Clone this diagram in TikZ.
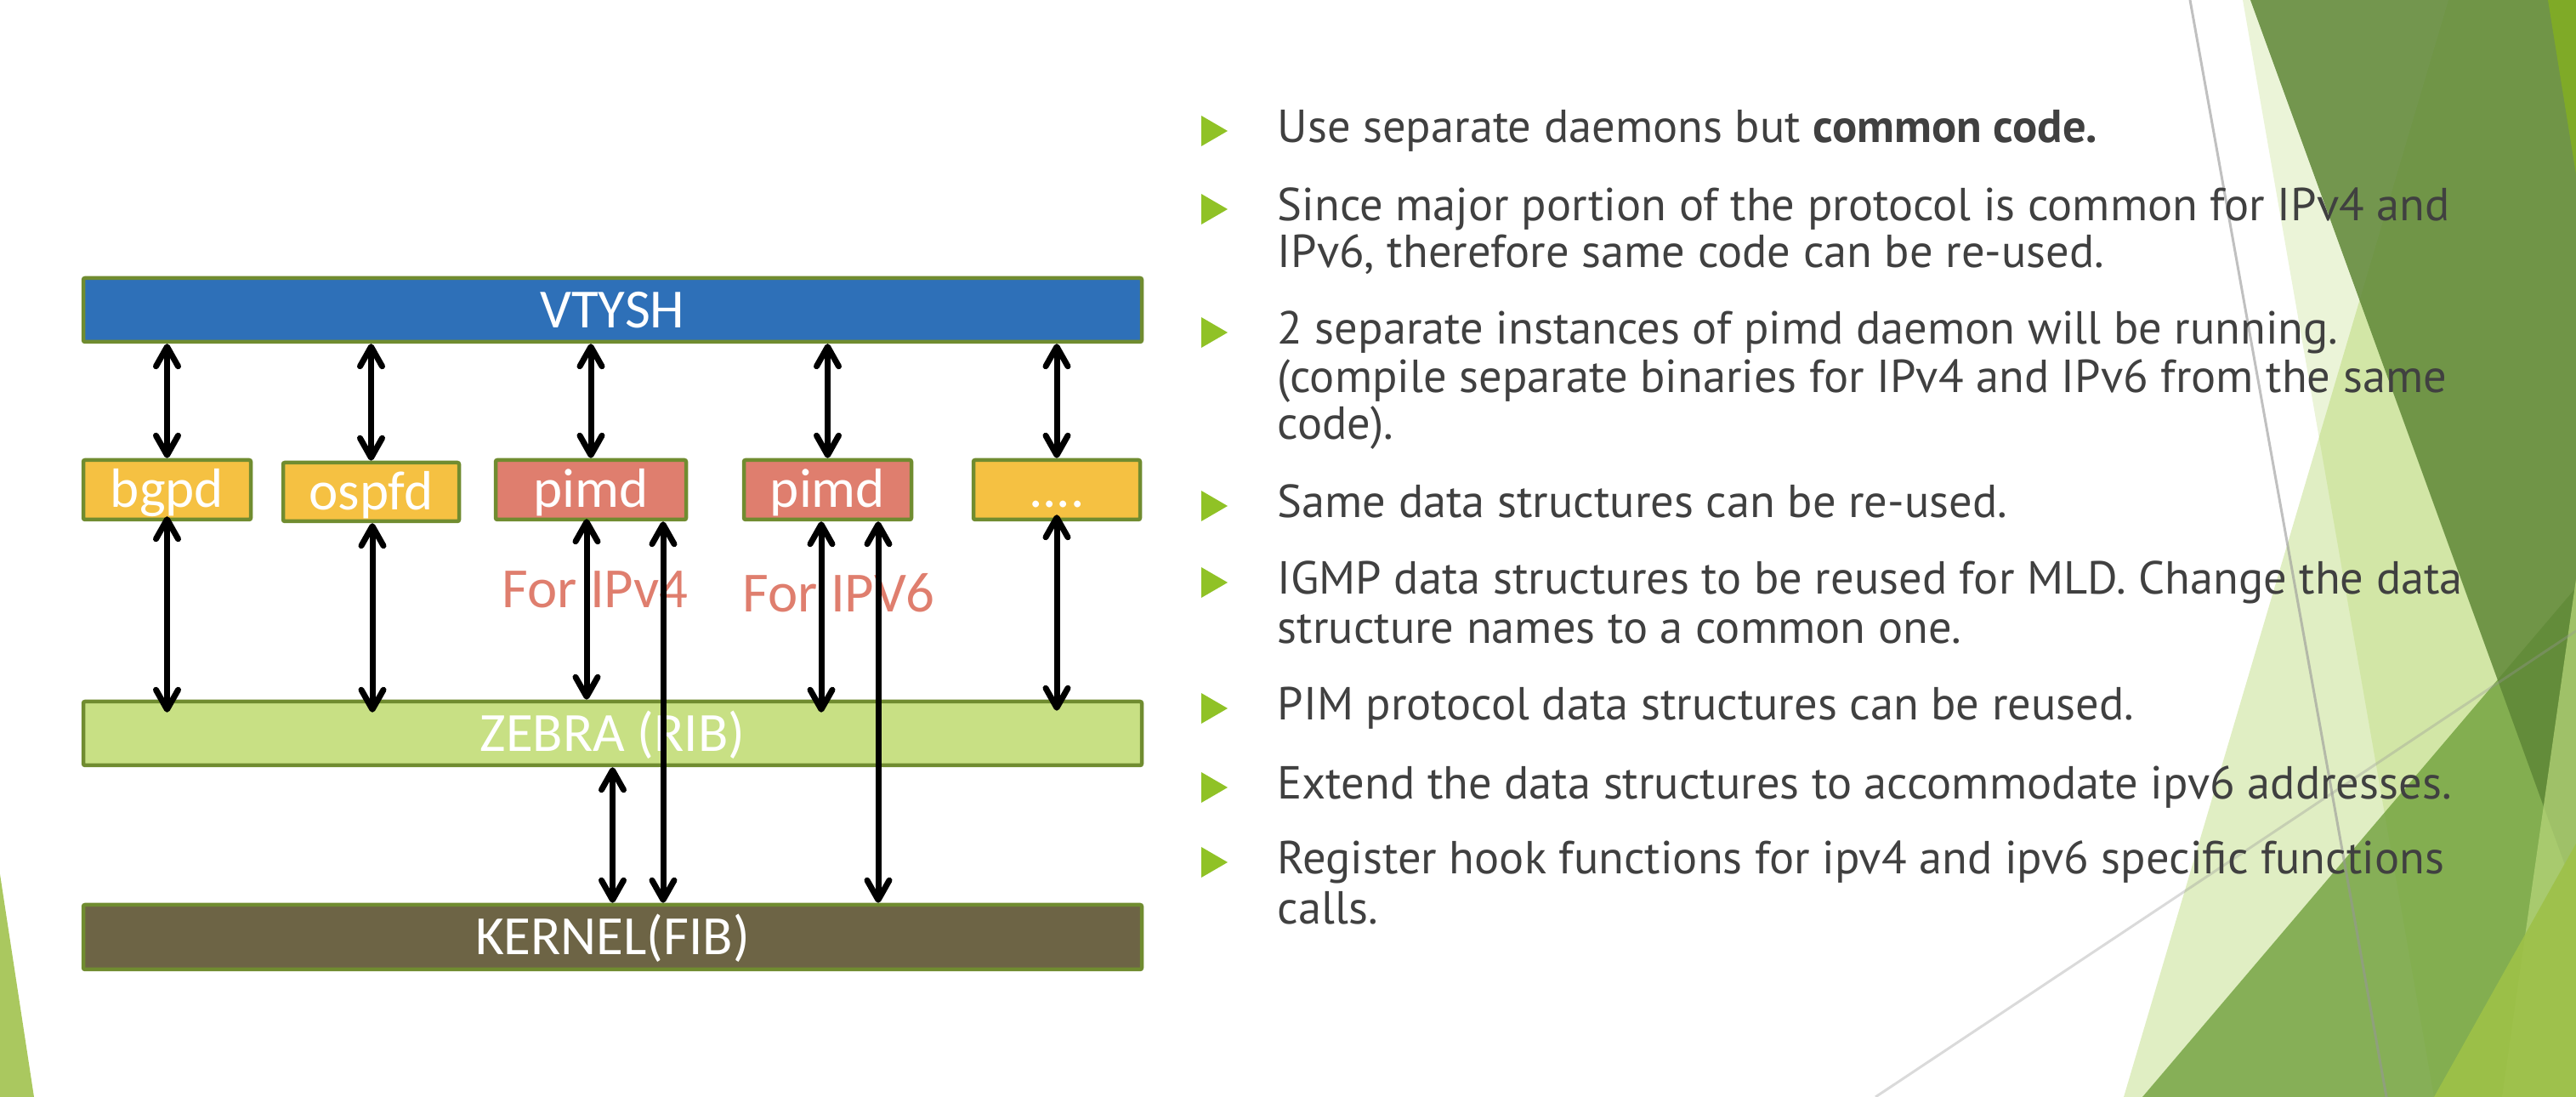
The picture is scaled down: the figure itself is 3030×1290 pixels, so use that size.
\documentclass[tikz,border=0pt]{standalone}
\usepackage{fontspec}
\setmainfont{PT Sans}
\newfontfamily\diagfont{Carlito}
\usetikzlibrary{positioning,
                arrows.meta}                % arrow tips

\definecolor{facetgreen}{RGB}{144,194,38}
\definecolor{facetdark}{RGB}{95,135,55}
\definecolor{facetmid}{RGB}{112,160,60}
\definecolor{facetlight}{RGB}{180,212,120}
\definecolor{facetbright}{RGB}{158,193,72}
\definecolor{facetleft}{RGB}{170,200,95}
\definecolor{boxborder}{RGB}{112,140,48}
\definecolor{vtyblue}{RGB}{46,112,184}
\definecolor{daemonyellow}{RGB}{245,193,66}
\definecolor{pimred}{RGB}{223,126,110}
\definecolor{zebragreen}{RGB}{200,224,132}
\definecolor{kernelbrown}{RGB}{109,100,69}
\definecolor{bodygray}{RGB}{64,64,64}

\tikzset{
  stackbox/.style={draw=boxborder, line width=0.45mm, rounded corners=0.2mm,
                   inner sep=0pt, text=white,
                   font=\diagfont\fontsize{18.5}{20}\selectfont,
                   text height=4.2mm, text depth=0pt},
  widebar/.style={stackbox, minimum width=124.5mm, minimum height=7.5mm},
  daemonbox/.style={stackbox, fill=daemonyellow, minimum height=7mm},
  pimbox/.style={stackbox, fill=pimred, minimum height=7mm},
  forlabel/.style={anchor=base west, inner sep=0pt, text=pimred,
                   font=\diagfont\fontsize{19}{21}\selectfont},
  dblarrow/.style={line width=0.7mm, line cap=round,
                   {Straight Barb[length=2.3mm,width=2.6mm,round]}-{Straight Barb[length=2.3mm,width=2.6mm,round]}},
  slidetext/.style={anchor=base west, inner sep=0pt, text=bodygray,
                    font=\fontsize{15.5}{18}\selectfont},
  guide/.style={draw=black!41, line width=0.3mm},
}

\begin{document}
\begin{tikzpicture}[x=0.1mm, y=-0.1mm]
  \useasboundingbox (0,0) rectangle (3030,1290);

  % facet background
  \fill[facetleft] (0,1028) -- (40,1290) -- (0,1290) -- cycle;
  \fill[facetgreen, opacity=0.18] (2638,0) -- (3030,0) -- (3030,1290) -- (2863,1290) -- cycle;
  \fill[facetgreen, opacity=0.28] (2880,0) -- (3030,0) -- (3030,1290) -- (2498,1290) -- cycle;
  \fill[facetmid, opacity=0.8] (2520,1290) -- (3030,691) -- (3030,1290) -- cycle;
  \fill[facetdark, opacity=0.85] (2647,0) -- (3030,0) -- (3030,1053) -- cycle;
  \fill[facetlight, opacity=0.75] (2943,1290) -- (3030,681) -- (3030,1290) -- cycle;
  \fill[facetbright, opacity=0.9] (2863,1290) -- (3030,992) -- (3030,1290) -- cycle;
  \fill[facetgreen!90!black, opacity=0.85] (2997,0) -- (3030,0) -- (3030,205) -- cycle;
  \draw[guide, opacity=0.6] (2576,0) -- (2807,1290);
  \draw[guide, opacity=0.35] (2206,1290) -- (3030,742);

  % stack
  \node[widebar, fill=vtyblue] (vtysh) at (720.5,364.5) {VTYSH};
  \node[daemonbox, minimum width=19.7mm] (bgpd) at (196.5,576) {bgpd};
  \node[daemonbox, minimum width=20.7mm, minimum height=6.9mm] (ospfd) at (436.5,578.5) {ospfd};
  \node[pimbox, minimum width=22.4mm] (pimda) at (695,576) {pimd};
  \node[pimbox, minimum width=19.7mm] (pimdb) at (973.5,576) {pimd};
  \node[daemonbox, minimum width=19.6mm] (more) at (1243,576) {....};
  \node[widebar, fill=zebragreen] (zebra) at (720.5,862.5) {ZEBRA (RIB)};
  \node[widebar, fill=kernelbrown, minimum height=7.6mm] (kernel) at (720.5,1102) {KERNEL(FIB)};

  \node[forlabel] (lbla) at (590,715) {For IPv4};
  \node[forlabel] (lblb) at (873,720) {For IPV6};

  \foreach \d in {bgpd,ospfd,pimda,pimdb,more}
    \draw[dblarrow] (\d.north |- vtysh.south) -- (\d.north);

  \foreach \d/\dx/\up/\dn in {bgpd/0/0.6/1.5, ospfd/1.5/0/1.5, pimda/-5/0.3/0,
                              pimdb/-7.5/0/1.5, more/0/0.8/1.3}
    \draw[dblarrow, shorten <=-\up mm, shorten >=-\dn mm]
      ([xshift=\dx*0.1mm]\d.south) -- ([xshift=\dx*0.1mm]\d.south |- zebra.north);

  \draw[dblarrow] ([xshift=8.5mm]pimda.south) -- ([xshift=8.5mm]pimda.south |- kernel.north);
  \draw[dblarrow] ([xshift=5.95mm]pimdb.south) -- ([xshift=5.95mm]pimdb.south |- kernel.north);
  \draw[dblarrow] (zebra.south) -- (kernel.north);

  % bullets
  \foreach \b in {168,260,405,609,699,847,940,1028}
    \fill[facetgreen] (1413,\b-32) -- (1444,\b-14) -- (1413,\b+4) -- cycle;

  \node[slidetext] (t1) at (1502,168) {Use separate daemons but \textbf{common code.}};
  \node[slidetext] (t2a) at (1502,260) {Since major portion of the protocol is common for IPv4 and};
  \node[slidetext] (t2b) at (1502,315) {IPv6, therefore same code can be re-used.};
  \node[slidetext] (t3a) at (1502,405) {2 separate instances of pimd daemon will be running.};
  \node[slidetext] (t3b) at (1502,462) {(compile separate binaries for IPv4 and IPv6 from the same};
  \node[slidetext] (t3c) at (1502,517) {code).};
  \node[slidetext] (t4) at (1502,609) {Same data structures can be re-used.};
  \node[slidetext] (t5a) at (1502,699) {IGMP data structures to be reused for MLD. Change the data};
  \node[slidetext] (t5b) at (1502,757) {structure names to a common one.};
  \node[slidetext] (t6) at (1502,847) {PIM protocol data structures can be reused.};
  \node[slidetext] (t7) at (1502,940) {Extend the data structures to accommodate ipv6 addresses.};
  \node[slidetext] (t8a) at (1502,1028) {Register hook functions for ipv4 and ipv6 specific functions};
  \node[slidetext] (t8b) at (1502,1086) {calls.};
\end{tikzpicture}
\end{document}
